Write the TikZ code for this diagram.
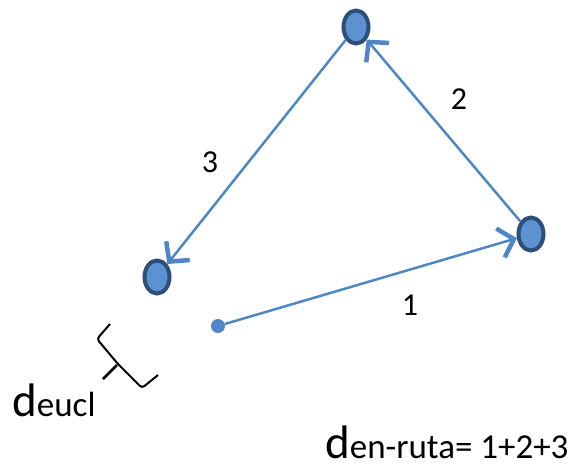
\documentclass[tikz,border=0pt]{standalone}
\usepackage{fontspec}
\setmainfont{Carlito}
\usetikzlibrary{shapes.geometric,arrows.meta}
\definecolor{routeline}{RGB}{79,134,197}
\definecolor{stopfill}{RGB}{92,146,208}
\definecolor{stopedge}{RGB}{44,78,120}
\tikzset{
  stop/.style={draw=stopedge,fill=stopfill,ellipse,line width=4pt,minimum width=25pt,minimum height=33pt,inner sep=0pt},
  origin/.style={circle,fill=routeline,minimum size=14pt,inner sep=0pt},
  leg/.style={draw=routeline,line width=2.5pt,-{Straight Barb[length=14pt,width=30pt,line width=2pt 1]}},
  lab/.style={font=\fontsize{32}{32}\selectfont,inner sep=0pt},
  big/.style={font=\fontsize{35}{35}\selectfont,inner sep=0pt,text depth=0pt,anchor=base west},
}
\newcommand{\bigd}{{\fontsize{47}{47}\selectfont d}}

\begin{document}
\begin{tikzpicture}[x=1pt,y=-1pt]
  \useasboundingbox (0,0) rectangle (571,467);
  \node[origin] (o) at (218,326) {};
  \node[stop] (p1) at (531,234) {};
  \node[stop] (p2) at (356,27) {};
  \node[stop] (p3) at (157,277) {};
  \draw[leg] (o) -- (p1);
  \draw[leg] (p1) -- (p2);
  \draw[leg] (p2) -- (p3);
  \node[lab] (l1) at (410,305) {1};
  \node[lab] (l2) at (459,99) {2};
  \node[lab] (l3) at (210,162) {3};
  % brace for the straight distance
  \draw[line width=2pt,rounded corners=3pt] (110,324) -- (97,339) -- (118,364) -- (142,388) -- (158,375);
  \draw[line width=2.5pt] (117,365) -- (103,379);
  \node[big] (deucl) at (12,416) {\bigd eucl};
  \node[big] (druta) at (325,458) {\bigd en-ruta= 1+2+3};
\end{tikzpicture}
\end{document}
